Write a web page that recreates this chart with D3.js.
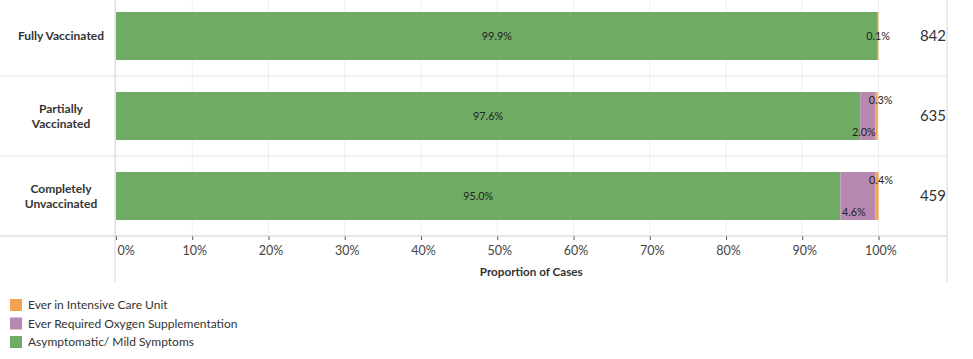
<!DOCTYPE html>
<html>
<head>
<meta charset="utf-8">
<script src="https://cdn.jsdelivr.net/npm/d3@7"></script>
<style>
  body { margin: 0; background: #fff; }
  svg { font-family: Lato, "Open Sans", sans-serif; }
</style>
</head>
<body>
<div id="chart"></div>
<script>
// data
const groups = ['Fully Vaccinated', 'Partially Vaccinated', 'Completely Unvaccinated'];
const mild = [99.9, 97.6, 95.0];
const oxygen = [0, 2.0, 4.6];
const icu = [0.1, 0.3, 0.4];
const totals = [842, 635, 459];
const ticks = [0, 10, 20, 30, 40, 50, 60, 70, 80, 90, 100];

const seriesNames = ['Asymptomatic/ Mild Symptoms', 'Ever Required Oxygen Supplementation', 'Ever in Intensive Care Unit'];
const colors = {
  'Asymptomatic/ Mild Symptoms': '#6fab65',
  'Ever Required Oxygen Supplementation': '#b889b0',
  'Ever in Intensive Care Unit': '#f3a24f'
};

const width = 973, height = 359;
const labelCol = 115, rightEdge = 947, axisY = 236;

const svg = d3.select('#chart')
  .append('svg')
  .attr('width', width)
  .attr('height', height);

const x = d3.scaleLinear().domain([0, 100]).range([116, 878.5]);
const y = d3.scaleBand().domain(groups).range([-4, axisY]).paddingInner(0).paddingOuter(0);
const barPad = 16;

// gridlines
svg.append('g')
  .selectAll('line')
  .data(ticks)
  .enter()
  .append('line')
  .attr('x1', d => x(d)).attr('x2', d => x(d))
  .attr('y1', 0).attr('y2', axisY)
  .attr('stroke', '#efefef');

// row separators
svg.append('g')
  .selectAll('line')
  .data(groups.slice(0, -1))
  .enter()
  .append('line')
  .attr('x1', 0).attr('x2', rightEdge)
  .attr('y1', d => y(d) + y.bandwidth()).attr('y2', d => y(d) + y.bandwidth())
  .attr('stroke', '#e2e2e2');

// frame lines
svg.append('line').attr('x1', labelCol).attr('x2', labelCol).attr('y1', 0).attr('y2', 282).attr('stroke', '#d6d6d6');
svg.append('line').attr('x1', rightEdge).attr('x2', rightEdge).attr('y1', 0).attr('y2', 282).attr('stroke', '#d6d6d6');

// stacked data
const rows = groups.map((g, i) => ({
  group: g,
  'Asymptomatic/ Mild Symptoms': mild[i],
  'Ever Required Oxygen Supplementation': oxygen[i],
  'Ever in Intensive Care Unit': icu[i],
  total: totals[i]
}));
const stack = d3.stack().keys(seriesNames)(rows);

const bars = svg.append('g');
stack.forEach(layer => {
  bars.selectAll(null)
    .data(layer.filter(d => d[1] - d[0] > 0))
    .enter()
    .append('rect')
    .attr('x', d => x(d[0]))
    .attr('width', d => x(d[1]) - x(d[0]))
    .attr('y', d => y(d.data.group) + barPad)
    .attr('height', y.bandwidth() - barPad * 2)
    .attr('fill', colors[layer.key]);
});

// segment labels
const labels = svg.append('g')
  .attr('font-size', 10.8)
  .attr('fill', '#222');
const fmt = v => v.toFixed(1) + '%';

stack.forEach((layer, k) => {
  layer.forEach(d => {
    const v = d[1] - d[0];
    if (v <= 0) return;
    const top = y(d.data.group) + barPad;
    const bottom = y(d.data.group) + y.bandwidth() - barPad;
    const mid = y(d.data.group) + y.bandwidth() / 2;
    const hasOxygen = d.data['Ever Required Oxygen Supplementation'] > 0;
    let lx = (x(d[0]) + x(d[1])) / 2, ly = mid + 4;
    if (k === 1) { ly = bottom - 4; lx = lx - 4; }
    if (k === 2 && hasOxygen) { ly = top + 12; lx = lx + 4; }
    labels.append('text')
      .attr('x', lx)
      .attr('y', ly)
      .attr('text-anchor', 'middle')
      .text(fmt(v));
  });
});

// row labels
const rowLabels = svg.append('g')
  .attr('font-size', 12)
  .attr('font-weight', 'bold')
  .attr('fill', '#333')
  .attr('text-anchor', 'middle');
groups.forEach(g => {
  const words = g.split(' ');
  const lines = g === 'Fully Vaccinated' ? [g] : words;
  const cy = y(g) + y.bandwidth() / 2;
  lines.forEach((ln, j) => {
    rowLabels.append('text')
      .attr('x', 61)
      .attr('y', cy + 4 + (j - (lines.length - 1) / 2) * 15)
      .text(ln);
  });
});

// totals
svg.append('g')
  .selectAll('text')
  .data(rows)
  .enter()
  .append('text')
  .attr('x', 946)
  .attr('y', d => y(d.group) + y.bandwidth() / 2 + 5)
  .attr('text-anchor', 'end')
  .attr('font-size', 15)
  .attr('fill', '#333')
  .text(d => d.total);

// x axis
const axis = svg.append('g')
  .attr('transform', `translate(0, ${axisY})`)
  .call(d3.axisBottom(x).tickValues(ticks).tickFormat(d => d + '%').tickSize(4).tickPadding(6));
axis.select('.domain').remove();
axis.selectAll('.tick line').attr('stroke', '#555');
axis.selectAll('.tick text')
  .attr('font-family', 'Lato, sans-serif')
  .attr('font-size', 12.5)
  .attr('fill', '#444')
  .attr('dx', 2);
// first label is kept inside the pane
axis.selectAll('.tick text')
  .filter(d => d === 0)
  .attr('text-anchor', 'start')
  .attr('dx', 1);
svg.append('line').attr('x1', 0).attr('x2', rightEdge).attr('y1', axisY).attr('y2', axisY).attr('stroke', '#cfcfcf');

svg.append('text')
  .attr('x', x(50) + 34)
  .attr('y', 276)
  .attr('text-anchor', 'middle')
  .attr('font-size', 11.7)
  .attr('font-weight', 'bold')
  .attr('fill', '#333')
  .text('Proportion of Cases');

// legend
const legendOrder = ['Ever in Intensive Care Unit', 'Ever Required Oxygen Supplementation', 'Asymptomatic/ Mild Symptoms'];
const legend = svg.append('g')
  .selectAll('g')
  .data(legendOrder)
  .enter()
  .append('g')
  .attr('transform', (d, i) => `translate(10, ${299 + i * 18.5})`);
legend.append('rect')
  .attr('width', 12).attr('height', 12)
  .attr('fill', d => colors[d]);
legend.append('text')
  .attr('x', 18).attr('y', 10)
  .attr('font-size', 12)
  .attr('fill', '#333')
  .text(d => d);
</script>
</body>
</html>
